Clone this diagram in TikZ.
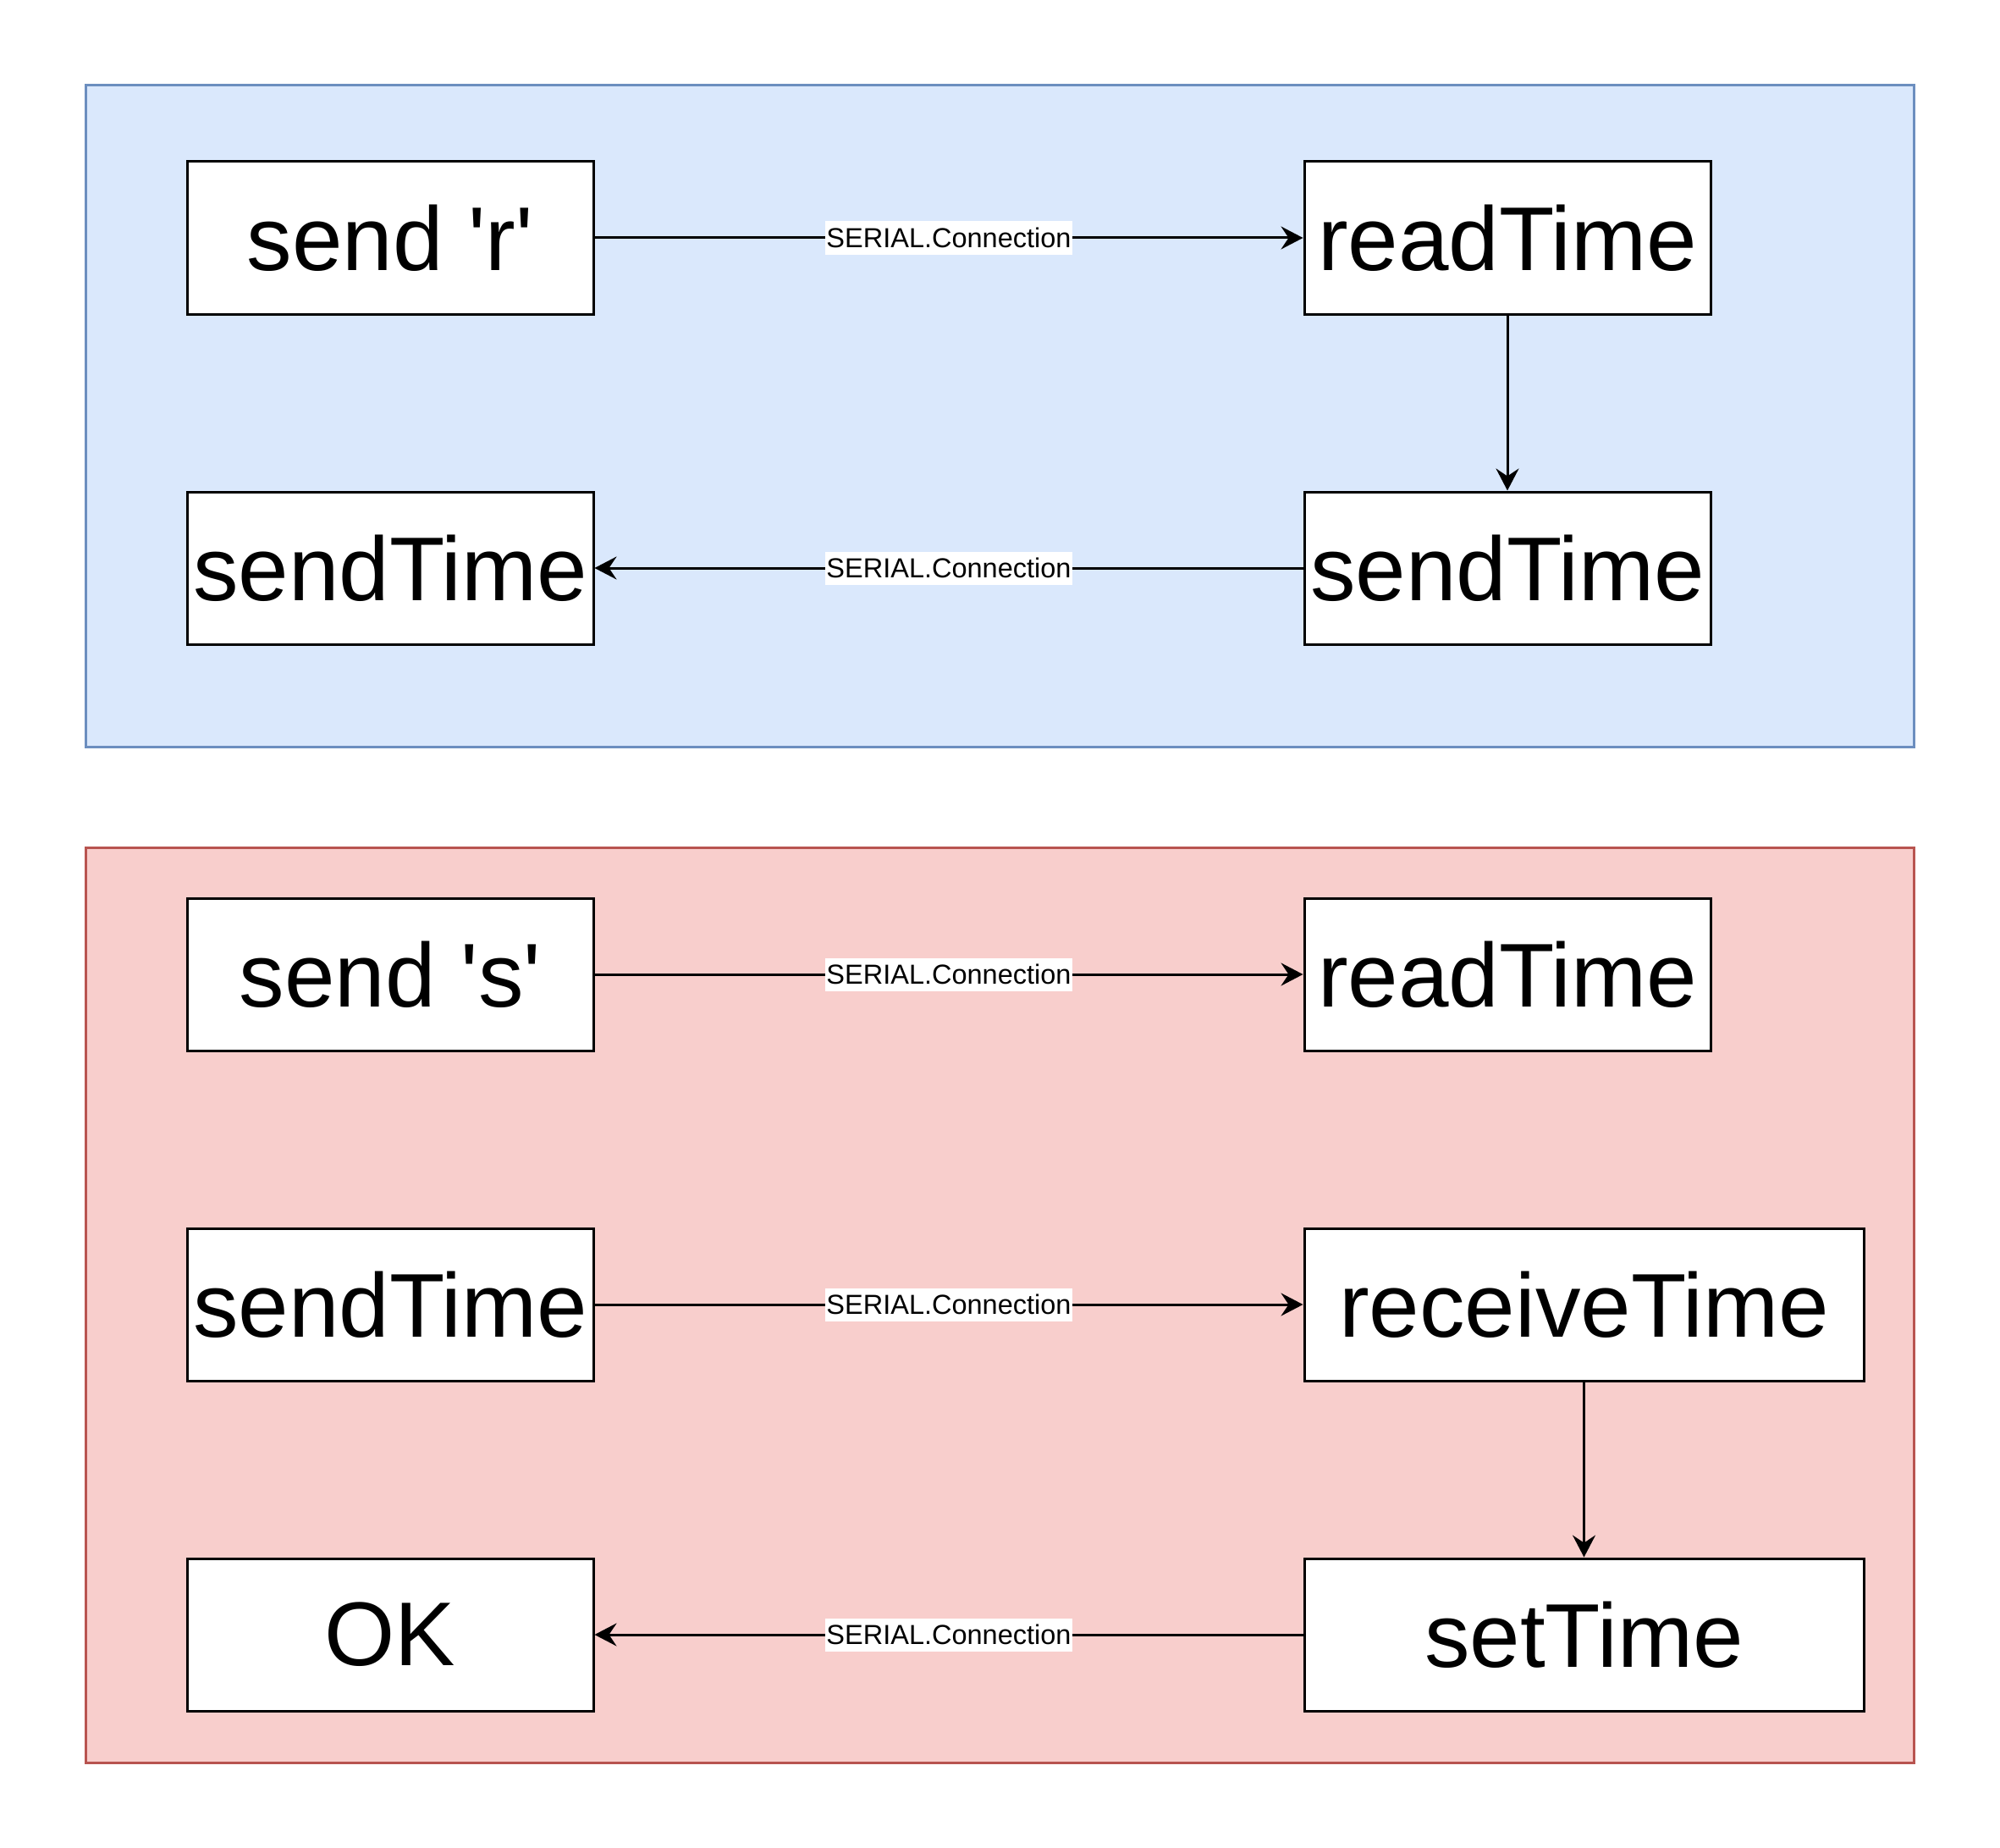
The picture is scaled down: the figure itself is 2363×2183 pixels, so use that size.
\documentclass[tikz,border=0pt]{standalone}
\usepackage{fontspec}
\setmainfont{Liberation Sans}
\usetikzlibrary{arrows.meta}
\definecolor{bluefill}{HTML}{DAE8FC}
\definecolor{bluestroke}{HTML}{6C8EBF}
\definecolor{redfill}{HTML}{F8CECC}
\definecolor{redstroke}{HTML}{B85450}
\tikzset{
  stepbox/.style={draw=black, fill=white, line width=3pt, minimum width=480pt, minimum height=180pt, inner sep=0pt, font=\fontsize{107}{120}\selectfont},
  widebox/.style={stepbox, minimum width=661pt},
  conn/.style={draw=black, line width=3pt, -{Stealth[length=26pt, width=27pt, inset=9pt]}},
  lbl/.style={fill=white, inner xsep=1pt, inner ysep=2pt, font=\fontsize{32.5}{36}\selectfont, text height=29pt, text depth=6pt},
  container/.style={line width=3pt}
}
\begin{document}
\begin{tikzpicture}[x=1pt, y=-1pt]
\useasboundingbox (0,0) rectangle (2363,2183);
\draw[container, draw=bluestroke, fill=bluefill] (101,101) rectangle (2261,882);
\draw[container, draw=redstroke, fill=redfill] (101,1001) rectangle (2261,2082);

\node[stepbox] (sr) at (461,281) {send \textquotesingle r\textquotesingle};
\node[stepbox] (rt1) at (1781,281) {readTime};
\node[stepbox] (st1) at (461,671) {sendTime};
\node[stepbox] (st2) at (1781,671) {sendTime};

\node[stepbox] (ss) at (461,1151) {send \textquotesingle s\textquotesingle};
\node[stepbox] (rt2) at (1781,1151) {readTime};
\node[stepbox] (st3) at (461,1541) {sendTime};
\node[widebox] (rcv) at (1871.5,1541) {receiveTime};
\node[stepbox] (ok) at (461,1931) {OK};
\node[widebox] (set) at (1871.5,1931) {setTime};

\draw[conn] (sr) -- node[lbl] {SERIAL.Connection} (rt1);
\draw[conn] (rt1) -- (st2);
\draw[conn] (st2) -- node[lbl] {SERIAL.Connection} (st1);

\draw[conn] (ss) -- node[lbl] {SERIAL.Connection} (rt2);
\draw[conn] (st3) -- node[lbl] {SERIAL.Connection} (rcv);
\draw[conn] (rcv) -- (set);
\draw[conn] (set) -- node[lbl] {SERIAL.Connection} (ok);
\end{tikzpicture}
\end{document}
